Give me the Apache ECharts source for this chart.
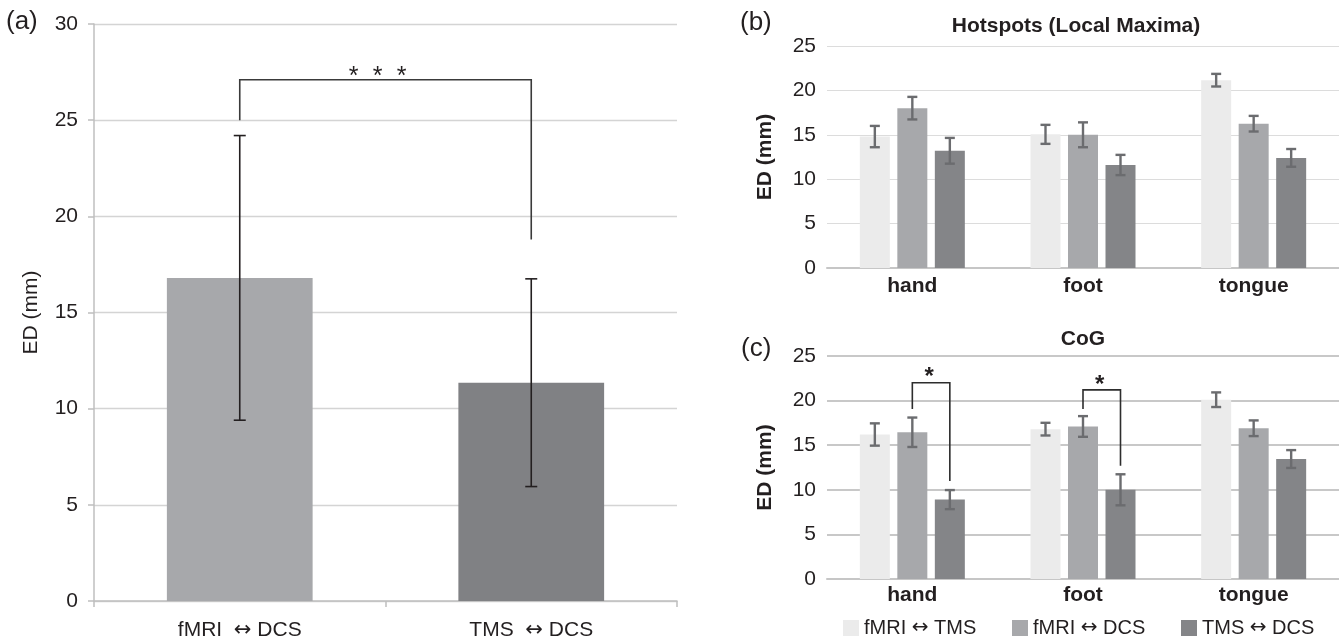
<!DOCTYPE html>
<html><head><meta charset="utf-8">
<script src="https://cdn.jsdelivr.net/npm/echarts@6/dist/echarts.min.js"></script>
<style>html,body{margin:0;padding:0;background:#fff}#c{width:1339px;height:641px}</style>
</head><body><div id="c"></div>
<script>
// ---------- data ----------
const overallCats = ['fMRI \u2194 DCS', 'TMS \u2194 DCS'];
const overallMean = [16.8, 11.35];
const overallErr = [7.4, 5.4];
// bracket in (a): left leg bottom, top, right leg bottom
const overallBracket = [25.0, 27.1, 18.8];
const overallSig = '***';

const regions = ['hand', 'foot', 'tongue'];
const pairNames = ['fMRI \u2194 TMS', 'fMRI \u2194 DCS', 'TMS \u2194 DCS'];
const hotMean = [[14.8, 15.05, 21.15], [18.0, 15.0, 16.25], [13.2, 11.6, 12.4]];
const hotErr = [[1.2, 1.07, 0.71], [1.27, 1.4, 0.88], [1.45, 1.14, 1.0]];
const cogMean = [[16.2, 16.8, 20.1], [16.45, 17.1, 16.9], [8.9, 10.0, 13.45]];
const cogErr = [[1.25, 0.71, 0.82], [1.65, 1.16, 0.88], [1.07, 1.74, 1.0]];
// [region, from pair, to pair, left leg bottom, top, right leg bottom, label]
const cogBrackets = [[0, 1, 2, 19.05, 22.0, 11.0, '*'], [1, 1, 2, 19.05, 21.2, 12.7, '*']];

const titleB = 'Hotspots (Local Maxima)';
const titleC = 'CoG';
const yName = 'ED (mm)';

// ---------- style ----------
const FONT = '"Liberation Sans", Arial, Helvetica, sans-serif';
const ARROW_FONT = '"DejaVu Sans", sans-serif';
const pairColors = ['#ebebeb', '#a7a8ab', '#848588'];
const overallColors = ['#a7a8ab', '#808184'];
const BAR_W = 30, BAR_GAP = 7.5;

// rich-text helper: draw the arrow in a font whose arrow glyph is full-size
function arrowRich(sepBefore, sepAfter) {
  return function (v) {
    const p = v.split(' \u2194 ');
    return p.length === 2 ? p[0] + sepBefore + '{arr|\u2194}' + sepAfter + p[1] : v;
  };
}

const chart = echarts.init(document.getElementById('c'), null, {renderer: 'canvas'});

function errSeries(gi, meanArr, errArr, s, opts) {
  const data = meanArr[s].map((m, i) => [i, m - errArr[s][i], m + errArr[s][i]]);
  return {
    type: 'custom', xAxisIndex: gi, yAxisIndex: gi, z: 5, silent: true, clip: false,
    data: data,
    renderItem: function (params, api) {
      const lo = api.coord([api.value(0), api.value(1)]);
      const hi = api.coord([api.value(0), api.value(2)]);
      const x = lo[0] + opts.offset;
      const h = opts.cap / 2;
      const st = {stroke: opts.color, lineWidth: opts.lw};
      return {type: 'group', children: [
        {type: 'line', shape: {x1: x, y1: hi[1], x2: x, y2: lo[1]}, style: st},
        {type: 'line', shape: {x1: x - h, y1: hi[1], x2: x + h, y2: hi[1]}, style: st},
        {type: 'line', shape: {x1: x - h, y1: lo[1], x2: x + h, y2: lo[1]}, style: st}
      ]};
    }
  };
}

function groupedAxes(gi, labelMargin) {
  return {
    x: {
      type: 'category', gridIndex: gi, data: regions,
      axisLine: {lineStyle: {color: '#c6c6c6', width: 2}},
      axisTick: {show: false},
      axisLabel: {fontFamily: FONT, fontSize: 21, fontWeight: 'bold', color: '#231f20', margin: labelMargin}
    },
    y: {
      type: 'value', gridIndex: gi, min: 0, max: 25, interval: 5,
      name: yName, nameLocation: 'middle', nameGap: 51, nameRotate: 90,
      nameTextStyle: {fontFamily: FONT, fontSize: 21, fontWeight: 'bold', color: '#231f20'},
      axisLine: {show: false}, axisTick: {show: false},
      axisLabel: {fontFamily: FONT, fontSize: 21, color: '#231f20', margin: 11},
      splitLine: {lineStyle: {color: gi === 1 ? '#dcdcdc' : '#c8c8c8', width: gi === 1 ? 1.2 : 1.8}}
    }
  };
}

const axB = groupedAxes(1, 8);
const axC = groupedAxes(2, 6);

const series = [];
// panel (a) bars
series.push({
  type: 'bar', xAxisIndex: 0, yAxisIndex: 0, barWidth: '50%', silent: true,
  data: overallMean.map((v, i) => ({value: v, itemStyle: {color: overallColors[i]}}))
});
series.push({
  type: 'custom', xAxisIndex: 0, yAxisIndex: 0, z: 5, silent: true, clip: false,
  data: overallMean.map((m, i) => [i, m - overallErr[i], m + overallErr[i]]),
  renderItem: function (params, api) {
    const lo = api.coord([api.value(0), api.value(1)]);
    const hi = api.coord([api.value(0), api.value(2)]);
    const x = lo[0];
    const st = {stroke: '#231f20', lineWidth: 1.6};
    return {type: 'group', children: [
      {type: 'line', shape: {x1: x, y1: hi[1], x2: x, y2: lo[1]}, style: st},
      {type: 'line', shape: {x1: x - 6, y1: hi[1], x2: x + 6, y2: hi[1]}, style: st},
      {type: 'line', shape: {x1: x - 6, y1: lo[1], x2: x + 6, y2: lo[1]}, style: st}
    ]};
  }
});
// bracket (a)
series.push({
  type: 'custom', xAxisIndex: 0, yAxisIndex: 0, z: 6, silent: true, clip: false,
  data: [[0, overallBracket[0], overallBracket[1], overallBracket[2]]],
  renderItem: function (params, api) {
    const l = api.coord([0, api.value(1)]);
    const t = api.coord([0, api.value(2)]);
    const r = api.coord([1, api.value(3)]);
    const st = {stroke: '#3a3a3a', lineWidth: 1.6, fill: null};
    const cx = (l[0] + r[0]) / 2 - 8;
    const stars = overallSig.split('').map((ch, k) => ({
      type: 'text',
      style: {text: ch, x: cx + (k - 1) * 24, y: t[1] + 10, textAlign: 'center', textVerticalAlign: 'bottom',
        font: '25px ' + FONT, fill: '#231f20'}
    }));
    return {type: 'group', children: [
      {type: 'polyline', shape: {points: [[l[0], l[1]], [l[0], t[1]], [r[0], t[1]], [r[0], r[1]]]}, style: st}
    ].concat(stars)};
  }
});

function addGrouped(gi, meanArr, errArr) {
  for (let s = 0; s < 3; s++) {
    series.push({
      type: 'bar', name: pairNames[s], xAxisIndex: gi, yAxisIndex: gi, silent: true,
      barWidth: BAR_W, barGap: (BAR_GAP / BAR_W * 100) + '%',
      itemStyle: {color: pairColors[s]}, data: meanArr[s]
    });
  }
  for (let s = 0; s < 3; s++) {
    series.push(errSeries(gi, meanArr, errArr, s, {offset: (s - 1) * (BAR_W + BAR_GAP), color: '#6b6c6f', lw: 2.4, cap: 10}));
  }
}
addGrouped(1, hotMean, hotErr);
addGrouped(2, cogMean, cogErr);

// brackets (c)
series.push({
  type: 'custom', xAxisIndex: 2, yAxisIndex: 2, z: 6, silent: true, clip: false,
  data: cogBrackets.map(b => [b[0], b[3], b[4], b[5]]),
  renderItem: function (params, api) {
    const b = cogBrackets[params.dataIndex];
    const step = BAR_W + BAR_GAP;
    const c0 = api.coord([api.value(0), api.value(1)]);
    const t = api.coord([api.value(0), api.value(2)]);
    const r = api.coord([api.value(0), api.value(3)]);
    const xl = c0[0] + (b[1] - 1) * step, xr = c0[0] + (b[2] - 1) * step;
    const st = {stroke: '#2d2d2d', lineWidth: 1.6, fill: null};
    return {type: 'group', children: [
      {type: 'polyline', shape: {points: [[xl, c0[1]], [xl, t[1]], [xr, t[1]], [xr, r[1]]]}, style: st},
      {type: 'text', style: {text: b[6], x: (xl + xr) / 2 - 2, y: t[1] + 7, textAlign: 'center', textVerticalAlign: 'bottom',
        font: 'bold 24px ' + FONT, fill: '#231f20'}}
    ]};
  }
});

const legendBase = {
  top: 613, itemWidth: 16, itemHeight: 16, icon: 'rect', selectedMode: false, itemGap: 0,
  formatter: arrowRich(' ', ' '),
  textStyle: {fontFamily: FONT, fontSize: 20, color: '#231f20',
    rich: {arr: {fontFamily: ARROW_FONT, fontSize: 20, color: '#231f20'}}}
};

const option = {
  animation: false,
  backgroundColor: '#ffffff',
  grid: [
    {left: 94, right: 662, top: 24, bottom: 39},
    {left: 827, right: 0, top: 46, bottom: 373},
    {left: 827, right: 0, top: 356, bottom: 62}
  ],
  xAxis: [
    {
      type: 'category', gridIndex: 0, data: overallCats,
      axisLine: {lineStyle: {color: '#bfbfbf', width: 1.5}},
      axisTick: {show: true, length: 6, lineStyle: {color: '#bfbfbf', width: 1.5}},
      axisLabel: {fontFamily: FONT, fontSize: 21, color: '#231f20', margin: 19,
        formatter: arrowRich('  ', ' '),
        rich: {arr: {fontFamily: ARROW_FONT, fontSize: 21, color: '#231f20'}}}
    },
    axB.x, axC.x
  ],
  yAxis: [
    {
      type: 'value', gridIndex: 0, min: 0, max: 30, interval: 5,
      name: yName, nameLocation: 'middle', nameGap: 52, nameRotate: 90,
      nameTextStyle: {fontFamily: FONT, fontSize: 21, color: '#231f20'},
      axisLine: {show: true, lineStyle: {color: '#bfbfbf', width: 1.5}},
      axisTick: {show: true, length: 6, lineStyle: {color: '#bfbfbf', width: 1.5}},
      axisLabel: {fontFamily: FONT, fontSize: 21, color: '#231f20', margin: 16},
      splitLine: {lineStyle: {color: '#d4d4d4', width: 1.3}}
    },
    axB.y, axC.y
  ],
  legend: [
    Object.assign({}, legendBase, {left: 838, data: [pairNames[0]]}),
    Object.assign({}, legendBase, {left: 1007, data: [pairNames[1]]}),
    Object.assign({}, legendBase, {left: 1176, data: [pairNames[2]]})
  ],
  graphic: [
    {type: 'text', left: 6, top: 9, style: {text: '(a)', font: '26px ' + FONT, fill: '#231f20'}},
    {type: 'text', left: 740, top: 10, style: {text: '(b)', font: '26px ' + FONT, fill: '#231f20'}},
    {type: 'text', left: 741, top: 336, style: {text: '(c)', font: '26px ' + FONT, fill: '#231f20'}},
    {type: 'text', x: 1076, y: 26, style: {text: titleB, font: 'bold 21px ' + FONT, fill: '#231f20', textAlign: 'center', textVerticalAlign: 'middle'}},
    {type: 'text', x: 1083, y: 339, style: {text: titleC, font: 'bold 21px ' + FONT, fill: '#231f20', textAlign: 'center', textVerticalAlign: 'middle'}}
  ],
  series: series
};
chart.setOption(option);
</script>
</body></html>
